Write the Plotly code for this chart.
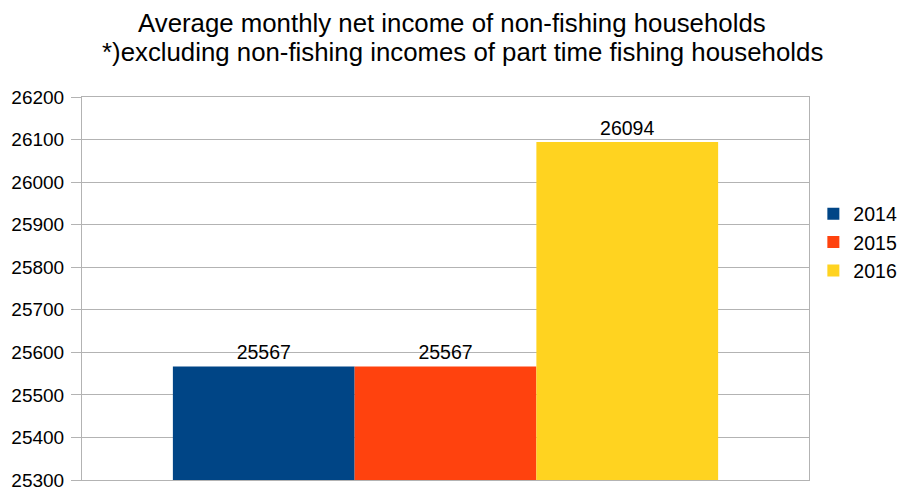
import plotly.graph_objects as go

# Average monthly net income of non-fishing households, by year
categories = [""]
years = ["2014", "2015", "2016"]
incomes = [25567, 25567, 26094]
colors = ["#004586", "#ff420e", "#ffd320"]

y_ticks = list(range(25300, 26201, 100))

title_lines = [
    "Average monthly net income of non-fishing households",
    "*)excluding non-fishing incomes of part time fishing households",
]
title_centers = [452, 462]  # horizontal centre of each title line, px

FONT = "Liberation Sans, Arial, sans-serif"
W, H = 898, 487
L, R, T, B = 82, 89, 97, 7

fig = go.Figure()
for year, value, color in zip(years, incomes, colors):
    fig.add_trace(go.Bar(
        x=categories,
        y=[value],
        name=year,
        marker=dict(color=color, line=dict(width=0)),
        text=[str(value)],
        textposition="outside",
        textfont=dict(size=19.5, color="#000000", family=FONT),
        cliponaxis=False,
    ))

# two-line chart title
for i, (line, cx) in enumerate(zip(title_lines, title_centers)):
    fig.add_annotation(
        text=line,
        xref="paper", yref="paper",
        x=(cx - L) / (W - L - R),
        y=1 + (74 - 29 * i) / (H - T - B),
        xanchor="center", yanchor="middle",
        showarrow=False,
        font=dict(size=25.8, color="#000000", family=FONT),
    )

fig.update_layout(
    width=W,
    height=H,
    margin=dict(l=L, r=R, t=T, b=B, autoexpand=False),
    paper_bgcolor="white",
    plot_bgcolor="white",
    barmode="group",
    bargap=0.25,
    bargroupgap=0,
    font=dict(family=FONT, size=19, color="#000000"),
    legend=dict(
        x=1.006,
        y=0.62,
        xanchor="left",
        yanchor="middle",
        font=dict(size=19.5),
        itemwidth=30,
        bgcolor="rgba(0,0,0,0)",
    ),
    showlegend=True,
)

fig.update_xaxes(
    showticklabels=False,
    showgrid=False,
    showline=True,
    linecolor="#b3b3b3",
    linewidth=1,
    mirror=True,
)
fig.update_yaxes(
    range=[25300, 26200],
    tickvals=y_ticks,
    ticktext=[str(v) for v in y_ticks],
    showgrid=True,
    gridcolor="#b3b3b3",
    gridwidth=1,
    showline=True,
    linecolor="#b3b3b3",
    linewidth=1,
    mirror=True,
    ticks="outside",
    ticklen=10,
    tickcolor="#b3b3b3",
    tickfont=dict(size=19),
    ticklabelstandoff=3,
    ticklabeloverflow="allow",
    zeroline=False,
)

fig.write_html("out.html")
